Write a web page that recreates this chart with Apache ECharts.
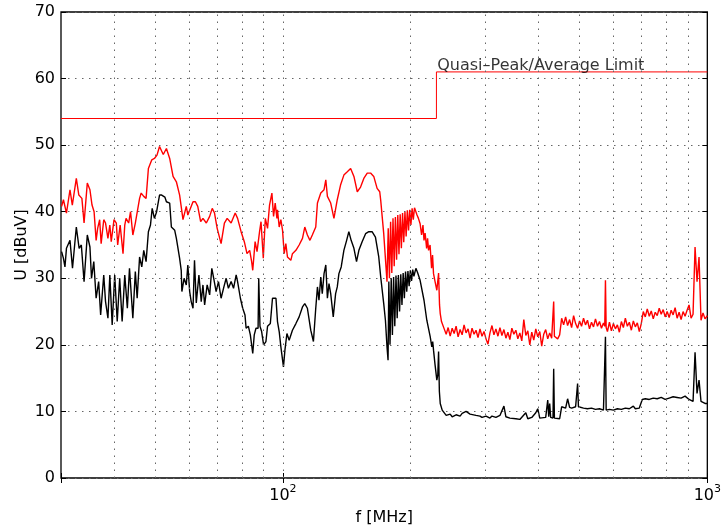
<!DOCTYPE html>
<html><head><meta charset="utf-8">
<script src="https://cdn.jsdelivr.net/npm/echarts@6/dist/echarts.min.js"></script>
<style>html,body{margin:0;padding:0;background:#fff}#c{width:724px;height:531px}</style>
</head><body><div id="c"></div>
<script>
// ---- data (MHz, dBuV) ----
const limitFreq  = [30, 230, 230, 1000];
const limitLevel = [54, 54, 61, 61];
const limitLabel = 'Quasi\u2013Peak/Average Limit';
const limitLabelFreq = 231, limitLabelLevel = 61;

// red trace (peak)
const redFreq = [
 30.1,30.4,30.9,31.5,31.9,32.6,33.05,33.6,34.0,34.6,35.1,35.5,35.9,36.3,36.6,37.0,37.3,37.83,38.2,38.7,39.1,39.4,40.0,40.5,40.8,41.35,42.0,42.4,42.7,43.3,43.75,44.3,44.9,45.35,45.95,46.35,47.0,47.6,48.2,49.1,49.8,50.5,51.2,51.55,52.25,53.15,54.1,55.1,56.1,57.1,58.15,59.2,59.7,60.3,61.4,62.2,63.0,64.0,64.8,66.0,67.2,68.15,69.0,70.0,71.5,72.8,73.9,75.5,77.2,78.2,79.7,81.1,82.3,83.5,84.4,84.9,86.0,86.9,88.1,88.8,89.9,90.9,92.0,93.0,94.2,95.05,95.9,96.8,97.1,98.0,98.9,99.8,100.7,101.6,102.5,104.4,105.3,107.3,109.2,111.2,112.6,114.2,115.8,117.3,119.5,120.6,122.8,125.0,126.2,127.3,129.6,131.9,134.3,136.7,139.2,141.8,144.4,147.0,149.7,152.4,155.1,158.0,160.9,163.7,166.7,169.1,170.0,172.8,175.9,
 177.07,178.22,179.38,180.55,181.72,182.90,184.09,185.29,186.49,187.70,188.92,190.15,191.39,192.63,193.88,195.14,196.41,197.69,198.97,200.27,201.57,202.88,204.20,205.53,
 207.0,208.6,210.5,212.2,213.8,215.0,216.3,218.1,219.2,220.4,222.2,224.0,225.2,226.4,228.3,230.5,232.7,233.9,234.8,236.4,
 239.9,242.5,245.1,247.8,250.5,253.2,255.9,258.7,261.5,264.4,
 267.2,270.1,273.1,276.0,279.0,282.1,285.1,288.2,291.3,294.5,
 297.7,301.0,304.2,307.5,310.9,314.2,317.6,321.1,324.6,328.1,
 331.7,335.3,338.9,342.6,346.3,350.1,353.9,357.7,361.6,365.5,
 369.5,373.5,377.6,381.7,385.8,390.0,394.3,398.5,402.9,407.2,
 411.7,416.1,420.7,425.2,429.8,432.9,434.5,436.2,439.2,444.0,
 448.8,453.7,458.6,463.6,468.6,473.7,478.9,484.1,489.4,494.7,
 500.0,505.4,510.9,516.4,522.0,527.7,533.5,539.3,545.1,551.1,
 557.1,563.1,569.2,573.2,575.4,577.6,581.6,588.0,594.3,600.8,
 607.3,613.9,620.5,627.3,634.1,641.0,648.0,655.0,662.2,669.4,
 676.6,684.0,691.4,698.9,706.5,714.2,721.9,729.8,737.7,745.7,
 753.8,762.0,770.3,778.6,787.1,795.6,804.2,813.0,821.8,830.7,
 839.7,848.9,858.1,867.4,876.8,886.3,896.0,905.7,915.6,925.5,
 935.6,945.7,956.0,966.4,976.9,987.5,1000];
const redLevel = [
 40.8,41.8,39.8,43.3,41.0,45.0,42.5,42.0,38.3,44.3,43.3,41.0,40.0,35.7,37.5,38.8,35.2,38.8,38.3,36.0,38.0,35.5,38.8,38.3,35.0,38.0,33.7,38.0,39.0,38.3,40.0,36.5,38.3,38.0,42.0,42.8,42.3,42.0,46.5,47.8,48.0,48.5,49.8,50.0,48.6,49.5,48.0,45.3,44.5,42.5,38.8,40.8,39.5,39.2,41.5,41.5,40.8,38.5,39.0,38.3,39.3,40.5,39.8,37.5,35.2,38.3,39.0,38.3,39.8,39.0,37.0,35.5,33.7,34.2,32.5,31.2,35.5,34.0,37.0,38.5,33.0,39.0,37.5,41.0,42.8,39.3,41.3,39.0,40.3,37.7,38.8,37.2,33.7,35.2,33.2,32.7,33.7,34.2,35.0,36.0,37.7,36.5,35.7,36.5,37.7,41.3,42.8,43.3,44.8,42.3,41.3,39.0,41.8,44.0,45.5,46.0,46.5,45.3,43.0,43.7,45.0,45.8,45.8,45.3,43.5,43.0,41.7,36.7,29.5,
 37.5,30.0,38.5,30.8,39.0,31.8,39.2,32.8,39.5,33.6,39.6,34.5,39.8,35.4,40.0,36.3,40.2,37.2,40.3,38.0,40.5,38.8,40.6,40.9,
 39.5,39.0,38.2,36.5,38.0,35.7,36.8,34.5,36.0,34.2,35.0,31.5,33.5,30.7,29.5,28.2,30.8,26.0,24.7,23.5,
 22.4,21.6,22.6,21.3,22.5,21.7,22.8,21.2,22.3,21.5,
 23.0,21.8,22.4,21.0,22.5,21.6,22.2,21.1,22.4,21.3,
 22.0,20.9,20.1,21.8,22.9,21.5,22.4,21.3,22.6,21.4,
 22.3,21.0,21.9,20.8,22.5,21.6,22.2,20.9,21.8,20.6,
 23.8,21.4,22.1,20.0,21.9,20.7,22.4,21.2,22.0,19.8,
 21.6,22.3,20.9,21.8,21.0,21.2,26.5,21.3,21.5,20.9,
 21.5,24.0,23.0,24.2,22.9,23.8,22.6,24.4,23.2,22.5,
 23.6,22.8,24.0,23.0,23.7,22.4,23.4,22.7,23.9,22.8,
 23.5,22.5,23.3,22.8,29.7,22.6,22.0,23.4,22.1,23.2,
 22.4,23.0,21.9,23.5,22.6,24.0,22.8,23.4,22.2,23.6,
 22.7,23.3,22.0,23.2,25.0,24.2,25.4,24.3,25.1,23.9,
 24.9,24.4,25.5,24.6,25.3,24.2,25.0,24.1,25.2,24.5,
 25.6,24.0,24.9,23.8,25.0,24.3,25.2,26.0,24.0,24.6,
 34.7,29.5,33.2,23.7,24.8,23.9,24.4];

// black trace (average)
const blackFreq = [
 30.1,30.4,30.65,30.9,31.5,31.93,32.6,33.1,33.5,34.0,34.6,35.1,35.4,35.84,36.3,36.8,37.2,37.83,38.2,38.7,39.1,39.6,40.15,40.7,41.25,41.8,42.4,43.0,43.5,44.3,44.9,45.35,45.95,46.5,47.0,47.6,48.2,48.75,49.2,49.8,50.4,51.2,51.8,52.7,53.15,53.6,54.1,54.6,55.1,55.6,56.1,57.1,57.6,57.8,58.15,58.5,59.2,59.7,60.3,60.8,61.4,61.9,62.5,63.4,64.2,64.8,65.4,66.3,67.2,68.0,68.7,69.6,70.5,71.5,72.6,73.5,74.4,75.5,76.5,77.6,78.2,79.4,80.4,81.4,81.9,82.9,83.8,84.9,85.6,86.4,87.4,87.7,88.3,89.1,90.05,90.7,91.2,92.0,93.4,94.5,95.4,96.3,97.1,98.0,98.9,100.3,101.1,102.2,103.45,105.3,107.3,109.2,111.2,112.6,114.2,116.3,118.0,119.5,120.6,121.6,122.8,123.8,125.0,126.2,127.3,128.4,129.6,131.4,133.1,134.3,135.5,137.2,139.2,141.3,143.0,144.8,147.0,149.1,151.0,153.7,156.6,159.4,162.2,165.2,168.2,170.0,172.8,174.4,175.9,176.9,
 177.65,178.80,179.96,181.13,182.31,183.49,184.69,185.89,187.10,188.31,189.54,190.77,192.01,193.26,194.51,195.78,197.05,198.33,199.62,200.92,202.23,203.54,205.75,
 207.8,210.5,215.0,218.3,222.4,224.3,225.4,226.4,228.3,230.5,231.7,232.7,233.7,234.8,
 237.3,242.5,247.8,250.5,255.9,261.5,264.4,270.1,276.0,279.0,
 285.1,291.3,294.5,301.0,307.5,310.9,317.6,324.6,328.1,331.7,
 335.3,342.6,346.3,353.9,361.6,365.5,373.5,377.6,385.8,394.3,
 398.5,402.9,407.2,416.1,420.7,423.0,425.2,427.5,429.8,432.9,
 434.5,436.2,439.2,448.8,452.0,453.7,463.6,468.6,473.7,478.9,
 489.4,492.5,494.7,497.0,500.0,510.9,522.0,533.5,545.1,557.1,
 569.2,573.2,575.4,577.6,588.0,600.8,613.9,627.3,641.0,655.0,
 669.4,676.6,691.4,698.9,702.7,714.2,729.8,745.7,762.0,778.6,
 795.6,813.0,830.7,848.9,867.4,886.3,905.7,925.5,935.6,945.7,
 956.0,966.4,987.5,1000];
const blackLevel = [
 34.0,33.0,31.7,34.5,35.7,31.5,37.7,34.5,35.0,29.5,36.5,34.7,30.0,32.5,27.0,29.5,24.5,30.5,26.5,24.0,30.5,23.0,30.5,23.5,30.0,23.5,30.5,25.5,31.5,24.0,31.0,27.0,33.2,31.7,34.2,32.5,37.0,38.0,40.5,39.0,40.0,42.5,42.5,42.2,41.5,41.5,41.3,37.7,37.5,37.2,36.0,33.0,31.2,28.0,27.7,30.0,29.0,32.0,28.0,26.5,25.5,32.7,26.3,30.5,26.5,29.0,26.0,29.0,27.5,31.5,30.0,28.0,29.5,27.0,28.7,30.0,28.5,29.5,28.5,30.5,29.5,27.0,25.5,24.5,22.5,22.8,21.5,18.7,21.5,22.5,22.5,30.0,22.8,22.0,20.0,19.7,20.5,22.8,23.2,27.0,26.8,27.0,23.5,22.0,19.7,16.7,19.2,21.7,20.7,22.2,23.2,24.2,25.7,26.2,25.5,22.2,20.5,25.5,28.7,26.7,30.2,27.7,30.7,32.0,27.0,29.2,27.7,24.2,27.7,28.7,30.7,31.7,34.2,35.7,37.0,35.7,34.5,32.5,34.2,35.5,36.7,37.0,37.0,36.2,33.2,30.2,26.2,23.7,19.7,17.7,
 29.5,20.0,30.0,21.5,30.2,22.8,30.4,24.0,30.5,25.0,30.6,26.0,30.8,27.0,31.0,28.0,31.1,28.8,31.2,29.6,31.3,30.3,31.5,
 30.8,29.7,26.7,23.7,21.2,19.7,20.5,19.2,17.0,14.7,15.5,19.0,13.0,11.2,
 10.2,9.4,9.6,9.2,9.5,9.3,9.7,10.0,9.6,9.8,
 9.4,9.3,9.1,9.3,9.0,9.3,9.1,9.4,9.3,10.8,
 9.2,9.0,8.7,8.9,8.8,9.0,9.8,8.9,9.1,9.8,
 10.4,9.0,9.2,9.1,11.7,9.2,11.2,9.1,9.2,9.0,
 16.4,9.0,9.1,8.9,9.0,10.7,10.5,11.9,10.6,10.5,
 10.7,10.6,14.2,10.7,10.8,10.5,10.4,10.5,10.3,10.4,
 10.2,10.2,21.2,10.2,10.3,10.2,10.4,10.3,10.5,10.4,
 10.8,10.4,10.5,10.4,11.8,11.9,11.8,12.0,11.9,12.1,
 11.8,12.0,12.2,12.1,12.0,12.3,11.8,11.5,18.9,12.7,
 14.7,11.5,11.2,11.2];

const xGridValues = [40,50,60,70,80,90,100,200,300,400,500,600,700,800,900];
const yTicks = {min: 0, max: 70, interval: 10};
const xRange = {min: 30, max: 1000};

// ---- chart ----
const FONT = '"DejaVu Sans", Verdana, sans-serif';
const zip = (a, b) => a.map((v, i) => [v, b[i]]);
const gridStyle = {color: '#666', width: 1, type: [1.5, 5.5]};
const chart = echarts.init(document.getElementById('c'), null, {renderer: 'canvas'});
const xLabel = v => {
  if (Math.abs(v - 100) < 1e-6) return '{b|10}{s|2}';
  if (Math.abs(v - 1000) < 1e-6) return '{b|10}{s|3}';
  return '';
};
const baseX = {
  type: 'log', logBase: 10, min: xRange.min, max: xRange.max,
  axisLine: {show: false},
  axisTick: {show: true, inside: true, length: 5, lineStyle: {color: '#000', width: 1}},
  splitLine: {show: false}, minorTick: {show: false}
};
const baseY = {
  type: 'value', min: yTicks.min, max: yTicks.max, interval: yTicks.interval,
  axisLine: {show: false},
  axisTick: {show: true, inside: true, length: 5, lineStyle: {color: '#000', width: 1}}
};
chart.setOption({
  animation: false,
  backgroundColor: '#fff',
  grid: {left: 61, right: 14, top: 12, bottom: 53, show: true, borderColor: '#000', borderWidth: 1.3, backgroundColor: 'transparent'},
  xAxis: [
    Object.assign({}, baseX, {
      position: 'bottom',
      name: 'f [MHz]', nameLocation: 'middle', nameGap: 32,
      nameTextStyle: {fontFamily: FONT, fontSize: 16, color: '#000'},
      axisLabel: {
        margin: 6, formatter: xLabel, color: '#000',
        rich: {
          b: {fontFamily: FONT, fontSize: 16, color: '#000', lineHeight: 24, verticalAlign: 'middle'},
          s: {fontFamily: FONT, fontSize: 11, color: '#000', lineHeight: 11, verticalAlign: 'top'}
        }
      }
    }),
    Object.assign({}, baseX, {position: 'top', axisLabel: {show: false}})
  ],
  yAxis: [
    Object.assign({}, baseY, {
      position: 'left',
      name: 'U [dBuV]', nameLocation: 'middle', nameGap: 31, nameRotate: 90, nameMoveOverlap: false,
      nameTextStyle: {fontFamily: FONT, fontSize: 16, color: '#000'},
      axisLabel: {margin: 6, fontFamily: FONT, fontSize: 16, color: '#000'},
      splitLine: {show: true, lineStyle: gridStyle}
    }),
    Object.assign({}, baseY, {position: 'right', axisLabel: {show: false}, splitLine: {show: false}})
  ],
  series: [
    {
      type: 'line', data: [], silent: true, z: 1,
      markLine: {silent: true, symbol: 'none', label: {show: false}, lineStyle: gridStyle,
        data: xGridValues.map(v => ({xAxis: v}))}
    },
    {
      name: 'limit', type: 'line', data: zip(limitFreq, limitLevel), showSymbol: false, z: 3,
      lineStyle: {color: '#ff0000', width: 1}, itemStyle: {color: '#ff0000'}
    },
    {
      name: 'peak', type: 'line', data: zip(redFreq, redLevel), showSymbol: false, z: 3,
      lineStyle: {color: '#ff0000', width: 1.4}, itemStyle: {color: '#ff0000'}
    },
    {
      name: 'avg', type: 'line', data: zip(blackFreq, blackLevel), showSymbol: false, z: 4,
      lineStyle: {color: '#000000', width: 1.4}, itemStyle: {color: '#000'}
    },
    {
      type: 'scatter', data: [[limitLabelFreq, limitLabelLevel]], symbolSize: 0, z: 5, silent: true,
      label: {show: true, formatter: limitLabel, position: [0, 0], align: 'left', verticalAlign: 'bottom',
        offset: [0, 2], fontFamily: FONT, fontSize: 16, color: '#000'}
    }
  ]
});
</script></body></html>
